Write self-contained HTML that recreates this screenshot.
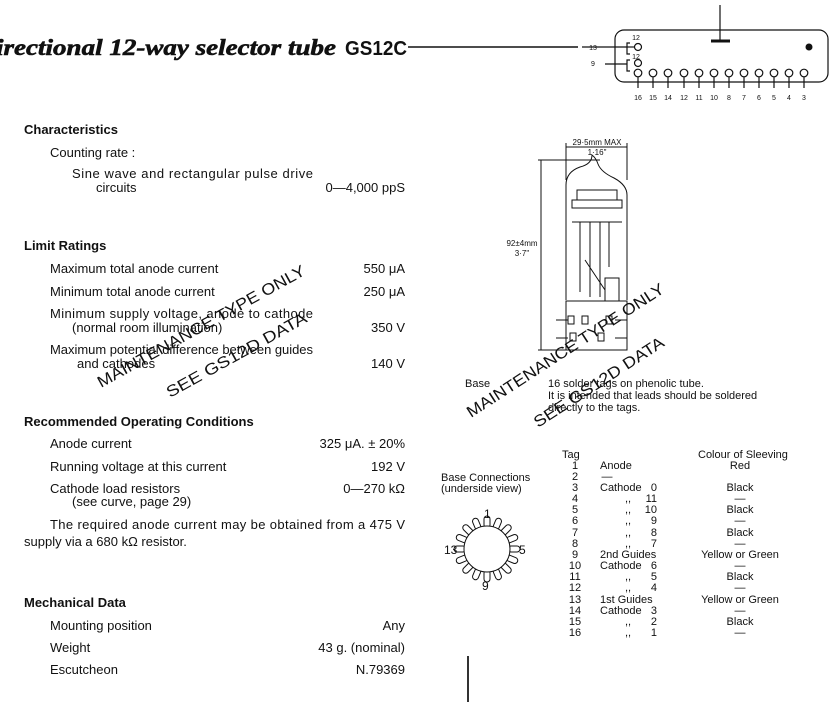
<!DOCTYPE html>
<html><head><meta charset="utf-8"><style>
html,body{margin:0;padding:0;background:#fff;}
svg{display:block}
text{font-family:"Liberation Sans",sans-serif;fill:#111;}
.b{font-size:13px}
.h{font-size:13px;font-weight:bold}
.s{font-size:11px}
.w{font-size:16px;font-family:"Liberation Sans",sans-serif;fill:#111}
</style></head><body>
<svg width="836" height="702" viewBox="0 0 836 702" xmlns="http://www.w3.org/2000/svg">
<rect width="836" height="702" fill="#fff"/>
<!-- title -->
<text x="-4" y="55" textLength="340" lengthAdjust="spacingAndGlyphs" style="font-family:'Liberation Serif',serif;font-weight:bold;font-style:italic;font-size:23px;stroke:#111;stroke-width:0.6">irectional 12-way selector tube</text>
<text x="345" y="55" textLength="62" lengthAdjust="spacingAndGlyphs" style="font-weight:bold;font-size:20px">GS12C</text>
<line x1="408" y1="47" x2="578" y2="47" stroke="#111" stroke-width="1.5"/>

<!-- left text -->
<g class="b">
<text class="h" x="24" y="134">Characteristics</text>
<text x="50" y="157">Counting rate :</text>
<text x="72" y="178" textLength="241">Sine wave and rectangular pulse drive</text>
<text x="96" y="192">circuits</text>
<text x="405" y="192" text-anchor="end">0—4,000 ppS</text>
<text class="h" x="24" y="250">Limit Ratings</text>
<text x="50" y="273">Maximum total anode current</text><text x="405" y="273" text-anchor="end">550 μA</text>
<text x="50" y="296">Minimum total anode current</text><text x="405" y="296" text-anchor="end">250 μA</text>
<text x="50" y="318" textLength="263">Minimum supply voltage, anode to cathode</text>
<text x="72" y="332">(normal room illumination)</text><text x="405" y="332" text-anchor="end">350 V</text>
<text x="50" y="354" textLength="263">Maximum potential difference between guides</text>
<text x="77" y="368">and cathodes</text><text x="405" y="368" text-anchor="end">140 V</text>
<text class="h" x="24" y="426">Recommended Operating Conditions</text>
<text x="50" y="448">Anode current</text><text x="405" y="448" text-anchor="end">325 μA. ± 20%</text>
<text x="50" y="471">Running voltage at this current</text><text x="405" y="471" text-anchor="end">192 V</text>
<text x="50" y="493">Cathode load resistors</text><text x="405" y="493" text-anchor="end">0—270 kΩ</text>
<text x="72" y="506">(see curve, page 29)</text>
<text x="50" y="529" textLength="355">The required anode current may be obtained from a 475 V</text>
<text x="24" y="546">supply via a 680 kΩ resistor.</text>
<text class="h" x="24" y="607">Mechanical Data</text>
<text x="50" y="630">Mounting position</text><text x="405" y="630" text-anchor="end">Any</text>
<text x="50" y="652">Weight</text><text x="405" y="652" text-anchor="end">43 g. (nominal)</text>
<text x="50" y="674">Escutcheon</text><text x="405" y="674" text-anchor="end">N.79369</text>
</g>
<line x1="468" y1="656" x2="468" y2="702" stroke="#333" stroke-width="2"/>

<!-- top right symbol -->
<g stroke="#111" fill="none" stroke-width="1.2">
<rect x="615" y="30" width="213" height="52" rx="9"/>
<line x1="720" y1="5" x2="720" y2="40"/>
<line x1="711" y1="41" x2="730" y2="41" stroke-width="3"/>
<line x1="582" y1="47" x2="627" y2="47"/>
<line x1="605" y1="64" x2="627" y2="64"/>
<path d="M630 43 h-3 v11 h3 M630 60 h-3 v11 h3"/>
<circle cx="638" cy="47" r="3.5"/><circle cx="638" cy="63" r="3.5"/>
<line x1="627" y1="47" x2="634" y2="47"/>
</g>
<circle cx="809" cy="47" r="3.5" fill="#111"/>
<g stroke="#111" fill="none" stroke-width="1.2">
<circle cx="638" cy="73" r="3.8"/><line x1="638" y1="77" x2="638" y2="88"/>
<circle cx="653" cy="73" r="3.8"/><line x1="653" y1="77" x2="653" y2="88"/>
<circle cx="668" cy="73" r="3.8"/><line x1="668" y1="77" x2="668" y2="88"/>
<circle cx="684" cy="73" r="3.8"/><line x1="684" y1="77" x2="684" y2="88"/>
<circle cx="699" cy="73" r="3.8"/><line x1="699" y1="77" x2="699" y2="88"/>
<circle cx="714" cy="73" r="3.8"/><line x1="714" y1="77" x2="714" y2="88"/>
<circle cx="729" cy="73" r="3.8"/><line x1="729" y1="77" x2="729" y2="88"/>
<circle cx="744" cy="73" r="3.8"/><line x1="744" y1="77" x2="744" y2="88"/>
<circle cx="759" cy="73" r="3.8"/><line x1="759" y1="77" x2="759" y2="88"/>
<circle cx="774" cy="73" r="3.8"/><line x1="774" y1="77" x2="774" y2="88"/>
<circle cx="789" cy="73" r="3.8"/><line x1="789" y1="77" x2="789" y2="88"/>
<circle cx="804" cy="73" r="3.8"/><line x1="804" y1="77" x2="804" y2="88"/>
</g>
<g style="font-size:7px" text-anchor="middle">
<text x="636" y="40">12</text><text x="636" y="59">12</text>
<text x="593" y="50">13</text><text x="593" y="66">9</text>
<text x="638" y="100">16</text><text x="653" y="100">15</text><text x="668" y="100">14</text><text x="684" y="100">12</text><text x="699" y="100">11</text><text x="714" y="100">10</text><text x="729" y="100">8</text><text x="744" y="100">7</text><text x="759" y="100">6</text><text x="774" y="100">5</text><text x="789" y="100">4</text><text x="804" y="100">3</text>
</g>

<!-- tube drawing -->
<g stroke="#111" fill="none" stroke-width="1">
<line x1="566" y1="143" x2="566" y2="180"/><line x1="627" y1="143" x2="627" y2="180"/>
<line x1="566" y1="147" x2="627" y2="147"/>
<line x1="538" y1="160" x2="600" y2="160"/><line x1="538" y1="350" x2="570" y2="350"/>
<line x1="541" y1="160" x2="541" y2="350"/>
<path d="M566 300 V185 Q566 172 580 167 Q592 164 592 155 Q596 158 598 164 Q601 172 614 178 Q627 185 627 195 V300"/>
<rect x="572" y="200" width="50" height="8"/>
<rect x="577" y="190" width="40" height="10"/>
<path d="M572 222 h50 M580 222 v70 M590 222 v75 M600 222 v75 M609 222 v45 M585 260 l20 30"/>
<rect x="605" y="278" width="14" height="23"/>
<rect x="566" y="301" width="61" height="49"/>
<path d="M556 320 h12 M556 338 h12 M615 320 h12 M615 338 h12"/>
<rect x="568" y="316" width="6" height="8"/><rect x="582" y="316" width="6" height="8"/><rect x="606" y="316" width="6" height="8"/><rect x="570" y="333" width="6" height="8"/><rect x="598" y="333" width="6" height="8"/>
</g>
<g style="font-size:8px" text-anchor="middle">
<text x="597" y="145">29·5mm MAX</text><text x="597" y="155">1·16"</text>
<text x="522" y="246">92±4mm</text><text x="522" y="256">3·7"</text>
</g>
<text class="s" x="465" y="387">Base</text>
<text class="s" x="548" y="387">16 solder tags on phenolic tube.</text>
<text class="s" x="548" y="399">It is intended that leads should be soldered</text>
<text class="s" x="548" y="411">directly to the tags.</text>

<!-- base connections -->
<text class="s" x="441" y="481">Base Connections</text>
<text class="s" x="441" y="492">(underside  view)</text>
<g stroke="#111" fill="#fff" stroke-width="1">
<g transform="translate(487,549)">
<g id="p"><rect x="-3" y="-33" width="6" height="12" rx="3"/></g>
<use href="#p" transform="rotate(22.5)"/><use href="#p" transform="rotate(45)"/><use href="#p" transform="rotate(67.5)"/><use href="#p" transform="rotate(90)"/><use href="#p" transform="rotate(112.5)"/><use href="#p" transform="rotate(135)"/><use href="#p" transform="rotate(157.5)"/><use href="#p" transform="rotate(180)"/><use href="#p" transform="rotate(202.5)"/><use href="#p" transform="rotate(225)"/><use href="#p" transform="rotate(247.5)"/><use href="#p" transform="rotate(270)"/><use href="#p" transform="rotate(292.5)"/><use href="#p" transform="rotate(315)"/><use href="#p" transform="rotate(337.5)"/>
<circle r="23"/>
</g></g>
<g style="font-size:12px">
<text x="484" y="518">1</text><text x="519" y="554">5</text><text x="444" y="554">13</text><text x="482" y="590">9</text>
</g>

<!-- tag table -->
<g class="s">
<text x="562" y="458">Tag</text>
<text x="698" y="458">Colour of Sleeving</text>
<g text-anchor="middle">
<text x="575" y="469">1</text><text x="575" y="480">2</text><text x="575" y="491">3</text><text x="575" y="502">4</text><text x="575" y="513">5</text><text x="575" y="524">6</text><text x="575" y="536">7</text><text x="575" y="547">8</text><text x="575" y="558">9</text><text x="575" y="569">10</text><text x="575" y="580">11</text><text x="575" y="591">12</text><text x="575" y="603">13</text><text x="575" y="614">14</text><text x="575" y="625">15</text><text x="575" y="636">16</text>
<text x="740" y="469">Red</text><text x="740" y="491">Black</text><text x="740" y="502">—</text><text x="740" y="513">Black</text><text x="740" y="524">—</text><text x="740" y="536">Black</text><text x="740" y="547">—</text><text x="740" y="558">Yellow or Green</text><text x="740" y="569">—</text><text x="740" y="580">Black</text><text x="740" y="591">—</text><text x="740" y="603">Yellow or Green</text><text x="740" y="614">—</text><text x="740" y="625">Black</text><text x="740" y="636">—</text>
<text x="607" y="480">—</text>
</g>
<text x="600" y="469">Anode</text>
<text x="600" y="491">Cathode</text><text x="600" y="558">2nd Guides</text><text x="600" y="569">Cathode</text><text x="600" y="603">1st Guides</text><text x="600" y="614">Cathode</text>
<g text-anchor="end">
<text x="657" y="491">0</text><text x="657" y="502">11</text><text x="657" y="513">10</text><text x="657" y="524">9</text><text x="657" y="536">8</text><text x="657" y="547">7</text><text x="657" y="569">6</text><text x="657" y="580">5</text><text x="657" y="591">4</text><text x="657" y="614">3</text><text x="657" y="625">2</text><text x="657" y="636">1</text>
</g>
<g text-anchor="middle">
<text x="628" y="502">,,</text><text x="628" y="513">,,</text><text x="628" y="524">,,</text><text x="628" y="536">,,</text><text x="628" y="547">,,</text><text x="628" y="580">,,</text><text x="628" y="591">,,</text><text x="628" y="625">,,</text><text x="628" y="636">,,</text>
</g>
</g>

<!-- watermarks -->
<text class="w" textLength="235" lengthAdjust="spacingAndGlyphs" transform="translate(101,388) rotate(-29)">MAINTENANCE TYPE ONLY</text>
<text class="w" textLength="158" lengthAdjust="spacingAndGlyphs" transform="translate(170,398) rotate(-29)">SEE GS12D DATA</text>
<text class="w" textLength="232" lengthAdjust="spacingAndGlyphs" transform="translate(471,418) rotate(-33)">MAINTENANCE TYPE ONLY</text>
<text class="w" textLength="152" lengthAdjust="spacingAndGlyphs" transform="translate(538,428) rotate(-33)">SEE GS12D DATA</text>
</svg>
</body></html>
